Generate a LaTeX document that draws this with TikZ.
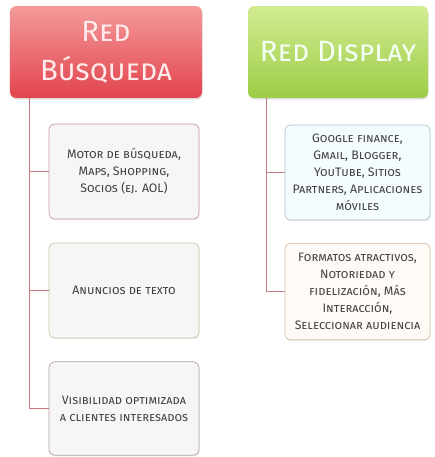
\documentclass[tikz,border=0pt]{standalone}
\usepackage{fontspec}
\setsansfont{Fira Sans}
\usetikzlibrary{positioning,shadows}
\definecolor{redtop}{HTML}{F49A9A}
\definecolor{redbot}{HTML}{E2444E}
\definecolor{greentop}{HTML}{D2EC92}
\definecolor{greenbot}{HTML}{9CCD46}
\definecolor{linkred}{HTML}{C97A80}
\begin{document}
\begin{tikzpicture}[
    x=0.03cm, y=-0.03cm,
    head/.style={rectangle, rounded corners=5pt, minimum width=5.6cm, minimum height=2.75cm, align=center, font=\sffamily\scshape\fontsize{25}{33}\selectfont, drop shadow={opacity=0.25, shadow xshift=0.5pt, shadow yshift=-1.5pt}},
    leaf/.style={rectangle, rounded corners=5pt, line width=0.6pt, minimum width=4.5cm, minimum height=2.85cm, align=center, font=\sffamily\scshape\fontsize{10.5}{14.5}\selectfont, text=black!75, drop shadow={opacity=0.15, shadow xshift=0.5pt, shadow yshift=-1pt}},
    link/.style={draw=linkred, line width=1.1pt}
  ]
    \useasboundingbox (0,0) rectangle (434,457);

    % cabeceras
    \node[head, top color=redtop, bottom color=redbot, text=red!8, minimum width=5.76cm] (busq) at (106, 52) {Red\\Búsqueda};
    \node[head, top color=greentop, bottom color=greenbot, text=green!4!white, minimum width=5.4cm] (disp) at (338, 52) {Red Display};

    % red de busqueda
    \node[leaf, draw=red!30!gray!60, fill=gray!7] (motor) at (124, 171.5) {Motor de búsqueda,\\Maps, Shopping,\\Socios (ej. AOL)};
    \node[leaf, draw=olive!30!gray!50, fill=gray!7, minimum height=2.85cm] (anun) at (124, 290.5) {Anuncios de texto};
    \node[leaf, draw=violet!30!gray!60, fill=gray!7, minimum height=2.8cm] (visib) at (124, 408.5) {Visibilidad optimizada\\a clientes interesados};

    % red display
    \node[leaf, draw=cyan!30!gray!60, fill=cyan!4, minimum width=4.35cm, inner xsep=1pt] (google) at (357.5, 172.5) {Google finance,\\Gmail, Blogger,\\YouTube, Sitios\\Partners, Aplicaciones\\móviles};
    \node[leaf, draw=orange!40!gray!50, fill=orange!4, minimum width=4.35cm, inner xsep=1pt, minimum height=2.9cm] (formatos) at (357.5, 291.5) {Formatos atractivos,\\Notoriedad y\\fidelización, Más\\Interacción,\\Seleccionar audiencia};

    \coordinate (tl) at ([xshift=0.6cm]busq.south west);
    \coordinate (tr) at ([xshift=0.57cm]disp.south west);

    \draw[link] (tl) |- (motor);
    \draw[link] (tl) |- (anun);
    \draw[link] (tl) |- (visib);
    \draw[link] (tr) |- (google);
    \draw[link] (tr) |- (formatos);

  \end{tikzpicture}
\end{document}
